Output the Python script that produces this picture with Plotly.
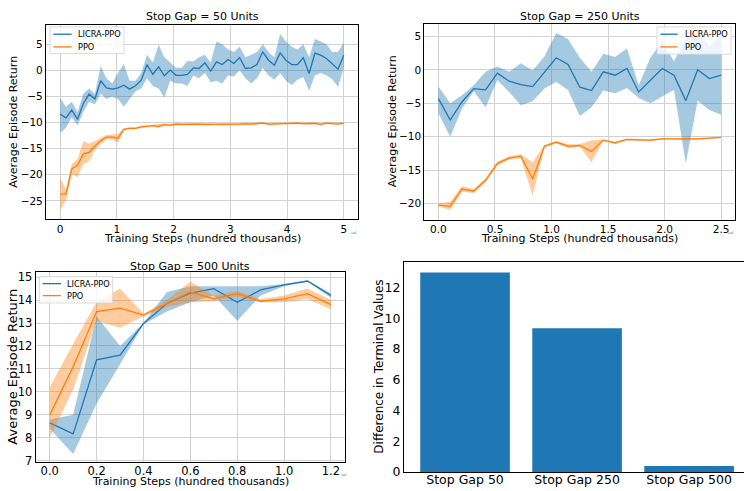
import plotly.graph_objects as go

W, H = 744, 491
K = 1.0163  # the photographed page comes out slightly squeezed vertically; compensate

# ---------------- data ----------------
p1_steps = [0.0, 0.102, 0.204, 0.306, 0.408, 0.510, 0.612, 0.714, 0.816, 0.918,
            1.020, 1.122, 1.224, 1.327, 1.429, 1.531, 1.633, 1.735, 1.837, 1.939,
            2.041, 2.143, 2.245, 2.347, 2.449, 2.551, 2.653, 2.755, 2.857, 2.959,
            3.061, 3.163, 3.265, 3.367, 3.469, 3.571, 3.673, 3.776, 3.878, 3.980,
            4.082, 4.184, 4.286, 4.388, 4.490, 4.592, 4.694, 4.796, 4.898, 5.0]
p1_licra = [-8.4, -9.1, -7.6, -9.4, -6.35, -4.55, -5.5, -2.0, -3.35, -3.6,
            -3.35, -2.85, -3.6, -2.95, -1.9, 1.1, -0.75, 0.65, -1.05, 0.05,
            -0.95, -0.95, -0.8, 0.48, 0.35, 1.43, -0.16, 1.62, 1.11, 2.07,
            1.31, 2.45, 0.35, 0.48, 1.11, 3.54, 1.94, 0.99, 3.34, 1.94,
            1.11, 1.11, 2.39, -0.6, 3.28, 2.9, 2.26, 1.31, 0.22, 2.9]
p1_licra_hi = [-5.3, -7.0, -6.0, -8.0, -4.5, -3.5, -4.5, 0.8, -1.5, -2.5,
               -0.5, 1.2, -2.0, -2.0, -0.5, 3.0, 1.5, 4.9, 2.5, 1.5,
               0.5, 0.5, 1.8, 1.7, 2.5, 3.0, 1.5, 5.5, 5.0, 4.0,
               3.5, 4.5, 2.5, 3.0, 3.5, 5.0, 3.5, 2.5, 7.0, 5.5,
               4.5, 4.0, 5.0, 2.5, 6.0, 5.5, 5.0, 3.5, 3.5, 5.3]
p1_licra_lo = [-12.0, -11.0, -9.0, -10.5, -8.0, -6.0, -6.5, -4.5, -5.5, -5.0,
               -5.5, -7.0, -5.5, -4.0, -3.5, -1.5, -3.0, -3.5, -5.2, -2.0,
               -2.5, -2.5, -3.0, -1.0, -1.5, -0.5, -2.3, -2.0, -2.5, -1.0,
               -1.2, 0.0, -1.5, -2.5, -1.5, 0.5, -1.0, -1.8, -0.5, -2.0,
               -2.8, -1.8, -1.3, -3.9, -1.0, -0.5, -1.0, -1.7, -3.2, 0.5]
p1_ppo = [-23.7, -23.7, -18.9, -18.2, -16.0, -15.7, -14.5, -13.5, -12.8, -12.8,
          -13.0, -11.3, -11.1, -11.1, -10.85, -10.7, -10.6, -10.75, -10.4, -10.5,
          -10.3, -10.35, -10.3, -10.35, -10.3, -10.35, -10.35, -10.3, -10.4, -10.35,
          -10.3, -10.3, -10.25, -10.3, -10.2, -10.1, -10.3, -10.25, -10.2, -10.1,
          -10.15, -10.1, -10.2, -10.2, -10.15, -10.35, -10.1, -10.2, -10.25, -10.1]
p1_ppo_hi = [-20.6, -22.8, -18.0, -17.0, -13.6, -14.0, -13.6, -12.9, -12.4, -12.3,
             -12.2, -11.1, -10.9, -10.9, -10.6, -10.5, -10.4, -10.4, -10.2, -10.3,
             -10.1, -10.15, -10.1, -10.15, -10.1, -10.15, -10.15, -10.1, -10.2, -10.15,
             -10.1, -10.1, -10.05, -10.1, -10.0, -9.95, -10.1, -10.05, -10.0, -9.95,
             -9.95, -9.95, -10.0, -10.0, -9.95, -10.15, -9.95, -10.0, -10.05, -9.95]
p1_ppo_lo = [-26.8, -25.0, -19.8, -20.5, -18.0, -17.4, -15.3, -14.1, -13.2, -13.3,
             -13.8, -11.5, -11.3, -11.3, -11.1, -10.9, -10.8, -11.1, -10.6, -10.7,
             -10.5, -10.55, -10.5, -10.55, -10.5, -10.55, -10.55, -10.5, -10.6, -10.55,
             -10.5, -10.5, -10.45, -10.5, -10.4, -10.3, -10.5, -10.45, -10.4, -10.3,
             -10.35, -10.3, -10.4, -10.4, -10.35, -10.55, -10.3, -10.4, -10.45, -10.3]

p2_steps = [0.0, 0.104, 0.208, 0.3125, 0.417, 0.521, 0.625, 0.729, 0.833, 0.9375,
            1.042, 1.146, 1.25, 1.354, 1.458, 1.5625, 1.667, 1.771, 1.875, 1.979,
            2.083, 2.1875, 2.292, 2.396, 2.5]
p2_licra = [-4.3, -7.5, -4.8, -2.8, -3.0, -0.5, -1.7, -2.2, -2.5, -0.3,
            1.8, 0.8, -2.6, -3.1, -0.3, -0.8, 0.2, -3.3, -1.6, 0.2,
            -0.8, -4.6, 0.0, -1.3, -0.8]
p2_licra_hi = [-2.5, -5.0, -3.8, -2.3, -0.3, 0.5, -0.3, 1.0, -0.1, 2.0,
               5.5, 4.6, 1.8, -0.3, 2.4, 1.9, 3.2, -2.3, 1.8, 4.3,
               1.3, 4.8, 5.5, 3.5, 5.2]
p2_licra_lo = [-6.5, -10.0, -5.8, -3.2, -5.6, -1.5, -3.3, -5.3, -4.7, -2.8,
               -1.8, -3.0, -6.9, -5.6, -3.1, -3.5, -2.7, -4.2, -5.0, -4.0,
               -3.0, -14.0, -4.6, -6.0, -6.7]
p2_ppo = [-20.2, -20.4, -17.8, -18.1, -16.5, -14.0, -13.2, -12.9, -16.3, -11.4,
          -10.8, -11.4, -11.3, -12.2, -10.5, -10.9, -10.4, -10.5, -10.5, -10.3,
          -10.3, -10.4, -10.3, -10.2, -10.1]
p2_ppo_hi = [-20.0, -19.7, -17.4, -17.8, -16.2, -13.7, -12.9, -12.6, -13.8, -11.2,
             -10.6, -11.1, -11.1, -10.5, -10.4, -10.7, -10.3, -10.35, -10.35, -10.2,
             -10.2, -10.3, -10.2, -10.1, -10.0]
p2_ppo_lo = [-20.4, -20.9, -18.2, -18.4, -16.8, -14.3, -13.4, -13.2, -18.8, -11.6,
             -11.0, -11.7, -11.5, -13.8, -10.6, -11.1, -10.5, -10.65, -10.65, -10.4,
             -10.4, -10.5, -10.4, -10.3, -10.2]

p3_steps = [0.0, 0.1, 0.2, 0.3, 0.4, 0.5, 0.6, 0.7, 0.8, 0.9, 1.0, 1.1, 1.2]
p3_licra = [8.65, 8.17, 11.4, 11.6, 12.98, 13.85, 14.3, 14.5, 13.9, 14.44, 14.66, 14.83, 14.2]
p3_licra_hi = [8.8, 9.0, 13.3, 12.0, 13.0, 14.35, 14.6, 14.6, 14.6, 14.6, 14.7, 14.85, 14.3]
p3_licra_lo = [8.4, 7.3, 9.5, 11.2, 12.95, 13.5, 13.9, 14.2, 13.1, 14.2, 14.6, 14.8, 14.1]
p3_ppo = [9.0, 11.1, 13.5, 13.65, 13.35, 13.85, 14.35, 14.05, 14.28, 13.95, 14.05, 14.28, 13.8]
p3_ppo_hi = [10.2, 12.1, 13.9, 14.5, 13.4, 14.0, 14.8, 14.2, 14.4, 14.05, 14.2, 14.5, 14.0]
p3_ppo_lo = [8.0, 10.1, 13.1, 12.8, 13.3, 13.7, 13.9, 13.95, 14.15, 13.9, 13.9, 14.05, 13.6]

bar_labels = ["Stop Gap 50", "Stop Gap 250", "Stop Gap 500"]
bar_values = [12.98, 9.35, 0.38]

titles = ["Stop Gap = 50 Units", "Stop Gap = 250 Units", "Stop Gap = 500 Units"]
series_names = ["LICRA-PPO", "PPO"]

# ---------------- style ----------------
BLUE = "#1f77b4"
ORANGE = "#ff7f0e"
BLUE_FILL = "rgba(31,119,180,0.4)"
ORANGE_FILL = "rgba(255,127,14,0.4)"
FONT = "DejaVu Sans"
GRID = "#d2d2d2"


def px(x):
    return x / W


def py(y):
    return 1 - (y * K) / H


fig = go.Figure()


def add_band(xs, lo, hi, color, xa, ya):
    fig.add_trace(go.Scatter(
        x=list(xs) + list(xs)[::-1], y=list(hi) + list(lo)[::-1],
        fill="toself", fillcolor=color, line=dict(width=0),
        mode="lines", hoverinfo="skip", showlegend=False, xaxis=xa, yaxis=ya))


def add_line(xs, ys, color, name, xa, ya):
    fig.add_trace(go.Scatter(
        x=xs, y=ys, mode="lines", line=dict(color=color, width=1.3),
        name=name, showlegend=False, xaxis=xa, yaxis=ya))


panels = [
    (p1_steps, p1_licra, p1_licra_lo, p1_licra_hi, p1_ppo, p1_ppo_lo, p1_ppo_hi, "x", "y"),
    (p2_steps, p2_licra, p2_licra_lo, p2_licra_hi, p2_ppo, p2_ppo_lo, p2_ppo_hi, "x2", "y2"),
    (p3_steps, p3_licra, p3_licra_lo, p3_licra_hi, p3_ppo, p3_ppo_lo, p3_ppo_hi, "x3", "y3"),
]
for xs, l, llo, lhi, p, plo, phi, xa, ya in panels:
    add_band(xs, llo, lhi, BLUE_FILL, xa, ya)
    add_line(xs, l, BLUE, series_names[0], xa, ya)
    add_band(xs, plo, phi, ORANGE_FILL, xa, ya)
    add_line(xs, p, ORANGE, series_names[1], xa, ya)

fig.add_trace(go.Bar(x=bar_labels, y=bar_values, marker=dict(color=BLUE, line=dict(width=0)),
                     width=0.8, showlegend=False, xaxis="x4", yaxis="y4"))


def ax(domain, rng, tickvals, anchor, size, fmt=None, grid=True, mirror=True, standoff=None):
    d = dict(domain=domain, range=rng, tickvals=tickvals, anchor=anchor,
             showline=True, linecolor="black", linewidth=1.2, mirror=mirror,
             showgrid=grid, gridcolor=GRID, gridwidth=1.2,
             zeroline=False, ticks="", tickfont=dict(family=FONT, size=size, color="black"))
    if fmt:
        d["tickformat"] = fmt
    if standoff is not None:
        d["ticklabelstandoff"] = standoff
    return d


fig.update_layout(
    width=W, height=H, margin=dict(l=0, r=0, t=0, b=0),
    paper_bgcolor="white", plot_bgcolor="white", showlegend=False,
    font=dict(family=FONT, color="black"),
    xaxis=ax([px(46), px(358)], [-0.25, 5.25], [0, 1, 2, 3, 4, 5], "y", 10.5),
    yaxis=ax([py(218), py(23)], [-28.57, 8.69], [-25, -20, -15, -10, -5, 0, 5], "x", 10.5),
    xaxis2=ax([px(424.3), px(735.3)], [-0.125, 2.625], [0, 0.5, 1.0, 1.5, 2.0, 2.5], "y2", 10.5, ".1f"),
    yaxis2=ax([py(218.3), py(21.7)], [-22.4, 6.9], [-20, -15, -10, -5, 0, 5], "x2", 10.5),
    xaxis3=ax([px(35.7), px(345)], [-0.06, 1.26], [0, 0.2, 0.4, 0.6, 0.8, 1.0, 1.2], "y3", 11.5, ".1f",
              standoff=-2),
    yaxis3=ax([py(461), py(270.7)], [6.95, 15.22], [7, 8, 9, 10, 11, 12, 13, 14, 15], "x3", 11.5),
    xaxis4=ax([px(404), 1.0], [-0.545, 2.49], bar_labels, "y4", 12.5, grid=False, mirror=True, standoff=-4),
    yaxis4=ax([py(471), py(260.7)], [0, 13.65], [0, 2, 4, 6, 8, 10, 12], "x4", 12.5, grid=False, mirror=False),
)

ann = []


def text(x, y, s, size, angle=0, xanchor="center", yanchor="middle", color="black"):
    ann.append(dict(x=px(x), y=py(y), xref="paper", yref="paper", text=s, showarrow=False,
                    font=dict(family=FONT, size=size, color=color), textangle=angle,
                    xanchor=xanchor, yanchor=yanchor, borderpad=0))


# titles
text(202, 15, titles[0], 11)
text(580, 15, titles[1], 11)
text(190, 265, titles[2], 11)
# axis labels
xl = "Training Steps (hundred thousands)"
yl = "Average Episode Return"
text(202, 237, xl, 11)
text(579, 237, xl, 11)
text(190, 481, xl, 11)
text(14, 120, yl, 11, -90)
text(392.5, 120, yl, 11, -90)
text(12.5, 366, yl, 13, -90)
text(379.5, 366, "Difference in Terminal Values", 12, -90)
# offset text
text(354, 232, "1e5", 3, color="#555")
text(731, 232, "1e5", 3, color="#555")
text(344, 474, "1e5", 3, color="#555")

shapes = []


def legend(x0, y0, x1, y1, lx0, lx1, tx, ys, size):
    shapes.append(dict(type="rect", xref="paper", yref="paper", x0=px(x0), x1=px(x1), y0=py(y1), y1=py(y0),
                       fillcolor="rgba(255,255,255,0.8)", line=dict(color="#d0d0d0", width=0.8), layer="above"))
    for name, col, yy in zip(series_names, [BLUE, ORANGE], ys):
        shapes.append(dict(type="line", xref="paper", yref="paper", x0=px(lx0), x1=px(lx1), y0=py(yy), y1=py(yy),
                           line=dict(color=col, width=1.3), layer="above"))
        text(tx, yy, name, size, xanchor="left")


legend(50, 25, 124, 51.7, 53.3, 71.7, 76.5, [32.3, 45], 8.2)
legend(657, 25, 731, 52.3, 660.3, 677.7, 683.5, [32.3, 45], 8.2)
legend(39.3, 275, 112.7, 301.7, 42.7, 61, 65.5, [282.3, 294.3], 8.2)

fig.update_layout(annotations=ann, shapes=shapes)

fig.write_html("out.html")
